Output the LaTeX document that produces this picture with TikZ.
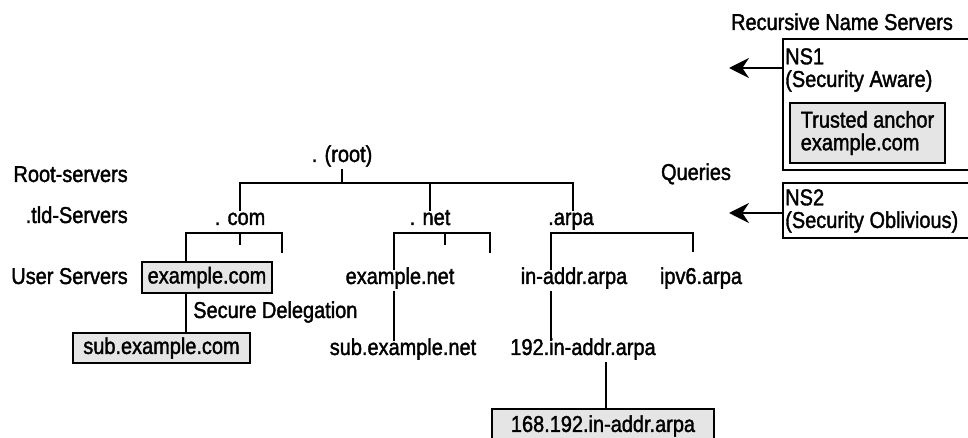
\documentclass[tikz,border=0pt]{standalone}
\usepackage{fontspec}
\setmainfont{Liberation Sans}[FakeStretch=0.87, FakeBold=1.6]
\usetikzlibrary{arrows.meta}
\newlength{\px}
\setlength{\px}{0.75pt}
\definecolor{boxgray}{gray}{0.9}
\tikzset{
  zone/.style={inner sep=0.3em, text height=0.72em, text depth=0.2em},
  graybox/.style={draw, line width=1.5pt, fill=boxgray, inner sep=0pt},
  nsbox/.style={draw, line width=1.3pt, inner sep=0pt},
  tree/.style={line width=1.4pt},
  query/.style={line width=1.4pt, -{Stealth[length=15pt,width=15pt,inset=5pt]}}
}

\begin{document}
\begin{tikzpicture}[x=0.75pt, y=-0.75pt, font=\fontsize{17.2}{17}\selectfont]
    \clip (0,0) rectangle (968,438);

    % 左侧层级标签
    \node[anchor=base east, inner sep=0pt] (lvlroot) at (128,182) {Root-servers};
    \node[anchor=base east, inner sep=0pt] (lvltld) at (128,223) {.tld-Servers};
    \node[anchor=base east, inner sep=0pt] (lvluser) at (128,284) {User Servers};

    % 域名树的节点
    \node[zone, anchor=base] (root) at (342,162) {. (root)};
    \node[zone, anchor=base] (com) at (240,225) {. com};
    \node[zone, anchor=base] (net) at (430,225) {. net};
    \node[zone, anchor=base] (arpa) at (571,225) {.arpa};
    \node[graybox, minimum width=130*\px, minimum height=31*\px] (excom) at (207,277.5) {example.com};
    \node[zone, anchor=base] (exnet) at (400,284) {example.net};
    \node[zone, anchor=base] (inaddr) at (574,284) {in-addr.arpa};
    \node[zone, anchor=base] (ipv6) at (701,284) {ipv6.arpa};
    \node[zone, anchor=base west] (secdel) at (189,318) {Secure Delegation};
    \node[graybox, minimum width=177*\px, minimum height=30*\px] (subcom) at (161.5,348) {sub.example.com};
    \node[zone, anchor=base] (subnet) at (403,355) {sub.example.net};
    \node[zone, anchor=base] (in192) at (583,355) {192.in-addr.arpa};
    \node[graybox, anchor=north west, minimum width=222*\px, minimum height=34*\px] (in168) at (491,408) {168.192.in-addr.arpa};

    % 定义连线的点
    \coordinate (rootL) at (240,183);
    \coordinate (rootM) at (430,183);
    \coordinate (rootR) at (573,183);
    \coordinate (comL) at (186,233);
    \coordinate (comM) at (240,233);
    \coordinate (comR) at (282,233);
    \coordinate (comMe) at (240,245);
    \coordinate (comRe) at (282,253);
    \coordinate (netL) at (394,233);
    \coordinate (netM) at (445,233);
    \coordinate (netR) at (490,233);
    \coordinate (netMe) at (445,245);
    \coordinate (netRe) at (490,253);
    \coordinate (arpaL) at (551,233);
    \coordinate (arpaR) at (693,233);
    \coordinate (arpaRe) at (693,252);
    \coordinate (drop168) at (606,408);

    % 树的连线
    \draw[tree] (root) -- (root |- rootL);
    \draw[tree] (rootL |- com.north) -- (rootL) -- (rootR) -- (rootR |- arpa.north);
    \draw[tree] (rootM) -- (net);
    \draw[tree] (comL |- excom.north) -- (comL) -- (comR) -- (comRe);
    \draw[tree] (comM) -- (comMe);
    \draw[tree] (excom.south -| comL) -- (comL |- subcom.north);
    \draw[tree] (netL |- exnet.north) -- (netL) -- (netR) -- (netRe);
    \draw[tree] (netM) -- (netMe);
    \draw[tree] (netL |- exnet.south) -- (netL |- subnet.north);
    \draw[tree] (arpaL |- inaddr.north) -- (arpaL) -- (arpaR) -- (arpaRe);
    \draw[tree] (arpaL |- inaddr.south) -- (arpaL |- in192.north);
    \draw[tree] (in192.south -| drop168) -- (drop168);

    % 递归名字服务器
    \node[anchor=base] (recns) at (842,30) {Recursive Name Servers};
    \node[nsbox, anchor=north west, minimum width=210*\px, minimum height=131*\px] (ns1) at (782,38) {};
    \node[anchor=north west, inner sep=0pt, align=left] (ns1txt) at (785,48) {NS1\\(Security Aware)};
    \node[graybox, minimum width=155*\px, minimum height=60*\px, align=left] (anchor) at (867.5,133) {Trusted anchor\\example.com};
    \node[nsbox, anchor=north west, minimum width=210*\px, minimum height=55*\px] (ns2) at (782,182) {};
    \node[anchor=north west, inner sep=0pt, align=left] (ns2txt) at (785,189) {NS2\\(Security Oblivious)};

    % 查询箭头
    \node[anchor=base] (queries) at (696,180) {Queries};
    \coordinate (q1) at (729,68);
    \coordinate (q2) at (729,213);
    \draw[query] (ns1.west |- q1) -- (q1);
    \draw[query] (ns2.west |- q2) -- (q2);

\end{tikzpicture}
\end{document}
